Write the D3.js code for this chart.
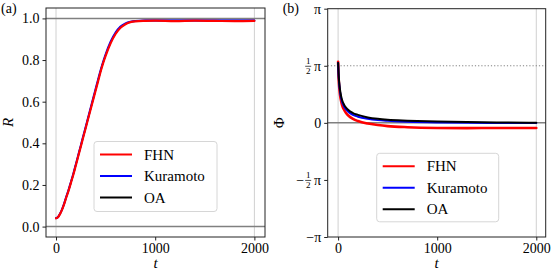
<!DOCTYPE html>
<html>
<head>
<meta charset="utf-8">
<script src="https://cdn.jsdelivr.net/npm/d3@7"></script>
<style>
  body { margin: 0; background: #fff; }
  svg { display: block; font-family: "Liberation Serif", "DejaVu Serif", serif; }
  .tick text { font-size: 14px; fill: #000; font-family: "Liberation Serif", "DejaVu Serif", serif; }
  .domain { display: none; }
</style>
</head>
<body>
<svg id="chart" width="555" height="278"></svg>
<script>
// (a) order parameter R(t)
const tA = [0, 20, 40, 60, 80, 100, 125, 150, 175, 200, 225, 250, 275, 300, 325, 350, 375, 400, 425, 450, 475, 500, 550, 600, 650, 700, 750, 800, 900, 1000, 1200, 1400, 1600, 1800, 2000]
const rFHN = [0.04, 0.045, 0.06, 0.08, 0.105, 0.135, 0.17, 0.21, 0.25, 0.295, 0.34, 0.385, 0.43, 0.475, 0.52, 0.565, 0.61, 0.655, 0.70, 0.745, 0.785, 0.82, 0.88, 0.925, 0.955, 0.972, 0.982, 0.986, 0.988, 0.989, 0.987, 0.989, 0.988, 0.987, 0.988]
const rKur = [0.04, 0.046, 0.062, 0.082, 0.108, 0.138, 0.174, 0.214, 0.255, 0.30, 0.345, 0.39, 0.436, 0.481, 0.527, 0.572, 0.618, 0.663, 0.708, 0.752, 0.792, 0.828, 0.888, 0.932, 0.961, 0.976, 0.984, 0.988, 0.99, 0.99, 0.99, 0.99, 0.99, 0.99, 0.99]
const rOA = [0.04, 0.046, 0.061, 0.081, 0.106, 0.136, 0.172, 0.212, 0.252, 0.297, 0.342, 0.387, 0.432, 0.477, 0.523, 0.568, 0.613, 0.658, 0.703, 0.748, 0.788, 0.823, 0.883, 0.928, 0.958, 0.974, 0.983, 0.987, 0.99, 0.99, 0.99, 0.99, 0.99, 0.99, 0.99]

// (b) mean phase Phi(t)
const tB = [0, 5, 10, 20, 30, 40, 60, 80, 100, 150, 200, 300, 400, 500, 700, 1000, 1300, 1600, 2000]
const pFHN = [1.68, 1.25, 1.02, 0.76, 0.60, 0.49, 0.36, 0.27, 0.21, 0.11, 0.05, -0.02, -0.06, -0.09, -0.12, -0.14, -0.145, -0.14, -0.14]
const pKur = [1.65, 1.30, 1.10, 0.85, 0.69, 0.58, 0.45, 0.37, 0.31, 0.22, 0.17, 0.11, 0.075, 0.055, 0.03, 0.01, 0.0, -0.003, -0.005]
const pOA = [1.65, 1.35, 1.15, 0.90, 0.74, 0.63, 0.50, 0.42, 0.36, 0.27, 0.22, 0.15, 0.11, 0.085, 0.06, 0.035, 0.02, 0.01, 0.005]

const seriesNames = ['FHN', 'Kuramoto', 'OA']
const seriesColors = ['#ff0000', '#0000ff', '#000000']
const xTicks = [0, 1000, 2000]
const yTicksA = [0, 0.2, 0.4, 0.6, 0.8, 1.0]
const yTicksB = [-Math.PI, -Math.PI / 2, 0, Math.PI / 2, Math.PI]

const svg = d3.select('#chart')

function plotPanel({ left, right, top, bottom, xDomain, yDomain, yTicks, yFormat, tag, ylab, t, series, hlines, legendBox }) {
	const g = svg.append('g')
	const x = d3.scaleLinear().domain(xDomain).range([left, right])
	const y = d3.scaleLinear().domain(yDomain).range([bottom, top])

	// light vertical guides at t=0 and t=2000
	g.selectAll('line.vguide').data([0, 2000]).join('line').attr('class', 'vguide')
	 .attr('x1', d => x(d)).attr('x2', d => x(d)).attr('y1', top).attr('y2', bottom)
	 .attr('stroke', '#d0d0d0').attr('stroke-width', 1)

	hlines.forEach(h => {
		g.append('line').attr('x1', left).attr('x2', right).attr('y1', y(h.v)).attr('y2', y(h.v))
		 .attr('stroke', h.color).attr('stroke-width', h.w).attr('stroke-dasharray', h.dash || null)
	})

	const line = d3.line().x((d, i) => x(t[i])).y(d => y(d)).curve(d3.curveMonotoneX)
	series.forEach(s => {
		g.append('path').datum(s.values).attr('d', line)
		 .attr('fill', 'none').attr('stroke', s.color).attr('stroke-width', s.w)
		 .attr('stroke-linejoin', 'round').attr('stroke-linecap', 'round')
	})

	g.append('rect').attr('x', left).attr('y', top).attr('width', right - left).attr('height', bottom - top)
	 .attr('fill', 'none').attr('stroke', '#222').attr('stroke-width', 1)

	g.append('g').attr('transform', `translate(0,${bottom})`)
	 .call(d3.axisBottom(x).tickValues(xTicks).tickSize(3.5).tickPadding(3).tickFormat(d3.format('d')))
	 .attr('font-family', null).attr('font-size', null)
	 .call(a => a.selectAll('.tick line').attr('stroke', '#222'))

	const ay = g.append('g').attr('transform', `translate(${left},0)`)
	 .call(d3.axisLeft(y).tickValues(yTicks).tickSize(3.5).tickPadding(3).tickFormat(yFormat))
	 .attr('font-family', null).attr('font-size', null)
	 .call(a => a.selectAll('.tick line').attr('stroke', '#222'))

	g.append('text').text(tag).attr('x', left - 45).attr('y', 13).style('font-size', '14px')
	g.append('text').text('t').attr('x', (left + right) / 2).attr('y', 268)
	 .attr('text-anchor', 'middle').style('font-size', '15px').style('font-style', 'italic')
	g.append('text').text(ylab.text).attr('transform', `translate(${ylab.x},${(top + bottom) / 2}) rotate(-90)`)
	 .attr('text-anchor', 'middle').style('font-size', '15px').style('font-style', ylab.italic ? 'italic' : 'normal')

	// legend
	const lg = g.append('g').attr('transform', `translate(${legendBox.x},${legendBox.y})`)
	lg.append('rect').attr('width', legendBox.w).attr('height', legendBox.h).attr('rx', 3)
	 .attr('fill', 'white').attr('fill-opacity', 0.8).attr('stroke', '#d6d6d6').attr('stroke-width', 1)
	seriesNames.forEach((name, i) => {
		const yy = 13 + i * 21.5
		lg.append('line').attr('x1', 6).attr('x2', 38).attr('y1', yy).attr('y2', yy)
		 .attr('stroke', seriesColors[i]).attr('stroke-width', 2)
		lg.append('text').text(name).attr('x', 50).attr('y', yy + 5).style('font-size', '15px')
	})
	return ay
}

plotPanel({
	left: 46, right: 265, top: 8, bottom: 237,
	xDomain: [-101, 2107], yDomain: [-0.05, 1.05],
	yTicks: yTicksA, yFormat: d3.format('.1f'),
	tag: '(a)', ylab: { text: 'R', x: 13, italic: true },
	t: tA,
	series: [
		{ values: rOA, color: seriesColors[2], w: 1.5 },
		{ values: rKur, color: seriesColors[1], w: 2 },
		{ values: rFHN, color: seriesColors[0], w: 2.2 },
	],
	hlines: [{ v: 1, color: '#808080', w: 1.5 }, { v: 0, color: '#808080', w: 1.5 }],
	legendBox: { x: 94, y: 141.5, w: 123, h: 70 },
})

const piLabel = d => {
	if (Math.abs(d) < 1e-9) return '0'
	if (Math.abs(Math.abs(d) - Math.PI) < 1e-9) return (d < 0 ? '\u2212' : '') + 'π'
	return ''
}
const ayB = plotPanel({
	left: 327.7, right: 545.7, top: 8.7, bottom: 237,
	xDomain: [-105, 2095], yDomain: [-Math.PI, Math.PI],
	yTicks: yTicksB, yFormat: piLabel,
	tag: '(b)', ylab: { text: 'Φ', x: 284, italic: false },
	t: tB,
	series: [
		{ values: pFHN, color: seriesColors[0], w: 2.6 },
		{ values: pKur, color: seriesColors[1], w: 2 },
		{ values: pOA, color: seriesColors[2], w: 2 },
	],
	hlines: [{ v: 0, color: '#808080', w: 1.5 }, { v: Math.PI / 2, color: '#808080', w: 1, dash: '1.2,2' }],
	legendBox: { x: 376.7, y: 153.3, w: 122, h: 68.5 },
})

// fraction labels for +-1/2 pi
ayB.selectAll('.tick').filter(d => Math.abs(Math.abs(d) - Math.PI / 2) < 1e-9).each(function (d) {
	const tk = d3.select(this)
	tk.append('text').text('π').attr('x', -6.5).attr('dy', '0.32em').attr('text-anchor', 'end')
	 .style('font-size', '14px')
	tk.append('text').text('1').attr('x', -19.5).attr('y', -2).attr('text-anchor', 'middle').style('font-size', '9px')
	tk.append('line').attr('x1', -22.5).attr('x2', -16.5).attr('y1', 0).attr('y2', 0).attr('stroke', '#000').attr('stroke-width', 0.7)
	tk.append('text').text('2').attr('x', -19.5).attr('y', 8).attr('text-anchor', 'middle').style('font-size', '9px')
	if (d < 0) tk.append('text').text('\u2212').attr('x', -23.5).attr('dy', '0.32em').attr('text-anchor', 'end').style('font-size', '14px')
})
</script>
</body>
</html>
